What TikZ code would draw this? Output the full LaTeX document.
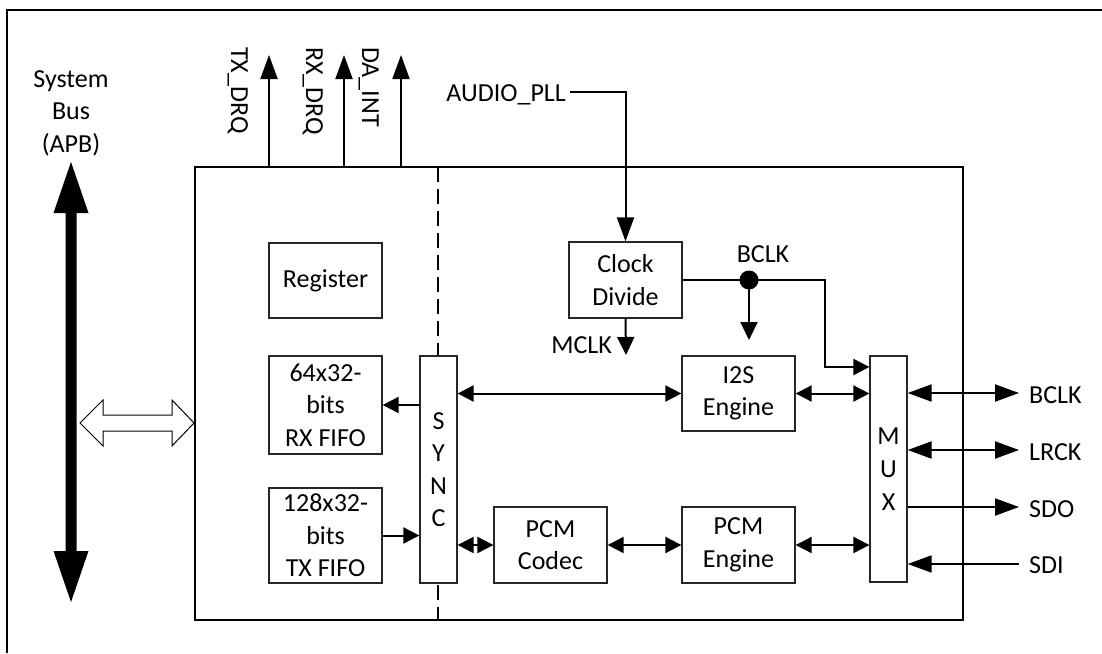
\documentclass[tikz,border=0pt]{standalone}
\usepackage{fontspec}
\setmainfont{Carlito}
\usetikzlibrary{arrows.meta}
\tikzset{
  every node/.style={font=\fontsize{26pt}{32.5pt}\selectfont, inner sep=0pt},
  blk/.style={draw=black!85, line width=1.3pt, fill=white, align=center, inner sep=0pt},
  conn/.style={line width=2pt},
  sa/.style={conn, -{Triangle[length=16pt,width=16pt]}},
  sab/.style={conn, {Triangle[length=16pt,width=16pt]}-{Triangle[length=16pt,width=16pt]}},
  ba/.style={conn, -{Triangle[length=24pt,width=17pt]}},
  bab/.style={conn, {Triangle[length=24pt,width=17pt]}-{Triangle[length=24pt,width=17pt]}},
}
\begin{document}
\begin{tikzpicture}[x=1pt,y=-1pt]
\useasboundingbox (0,0) rectangle (1102,653);
% outer frame (left and top)
\draw[line width=2pt] (7,653) -- (7,10) -- (1102,10);
% main box
\node[draw, line width=2pt, minimum width=768pt, minimum height=453pt] (main) at (579,393.5) {};
% dashed separator
\coordinate (dtop) at (438,167);
\coordinate (dbot) at (438,620);
\draw[line width=1.5pt, dash pattern=on 15pt off 7pt] (dtop) -- (dbot);
% system bus label
\node[align=center] (sysbus) at (71,113) {System\\Bus\\(APB)};
% thick bus arrow
\fill (71,162) -- (88.5,213) -- (76.5,213) -- (76.5,551) -- (88.5,551) -- (71,602) -- (53.5,551) -- (65.5,551) -- (65.5,213) -- (53.5,213) -- cycle;
% hollow double arrow
\draw[line width=1pt, fill=white] (80,423) -- (103,400) -- (103,415) -- (172,415) -- (172,400) -- (194,423) -- (172,446) -- (172,431) -- (103,431) -- (103,446) -- cycle;
% blocks
\node[blk, minimum width=113pt, minimum height=75pt] (reg) at (325.5,280.5) {Register};
\node[blk, minimum width=113pt, minimum height=98pt] (rx) at (325.5,405) {64x32-\\bits\\RX FIFO};
\node[blk, minimum width=113pt, minimum height=95pt] (tx) at (325.5,535.5) {128x32-\\bits\\TX FIFO};
\node[blk, minimum width=37pt, minimum height=227pt] (sync) at (438.5,469.5) {S\\Y\\N\\C};
\node[blk, minimum width=113pt, minimum height=76pt] (clk) at (625.5,280) {Clock\\Divide};
\node[blk, minimum width=113pt, minimum height=75pt] (i2s) at (738.5,393.5) {I2S\\Engine};
\node[blk, minimum width=113pt, minimum height=76pt] (codec) at (550.5,545) {PCM\\Codec};
\node[blk, minimum width=113pt, minimum height=76pt] (pcm) at (738.5,545) {PCM\\Engine};
\node[blk, minimum width=37pt, minimum height=226pt, font=\fontsize{26pt}{33pt}\selectfont] (mux) at (888.5,469) {M\\U\\X};
% top request signals
\coordinate (txe) at (269,55);
\coordinate (rxe) at (344,55);
\coordinate (dae) at (401,55);
\draw[ba] (main.north -| txe) -- (txe);
\draw[ba] (main.north -| rxe) -- (rxe);
\draw[ba] (main.north -| dae) -- (dae);
\node[rotate=-90, anchor=base west] (txl) at (231,47) {TX\_DRQ};
\node[rotate=-90, anchor=base west] (rxl) at (306,47) {RX\_DRQ};
\node[rotate=-90, anchor=base west] (dal) at (362,47) {DA\_INT};
% audio pll
\node[anchor=base east] (pll) at (566,101) {AUDIO\_PLL};
\coordinate (pllA) at (570,92);
\draw[ba] (pllA) -| (clk.north);
% mclk
\coordinate (mclke) at (626,355);
\draw[conn, -{Triangle[length=18pt,width=17pt]}] (clk.south) -- (mclke);
\node[anchor=base east] (mclk) at (612,353) {MCLK};
% bclk
\coordinate (dot) at (749,280);
\coordinate (bj) at (825,367);
\draw[sa] (clk.east) -| (bj) -- (mux.west |- bj);
\coordinate (dote) at (749,340);
\draw[conn, -{Triangle[length=18pt,width=17pt]}] (dot) -- (dote);
\fill (dot) circle[radius=9.5pt];
\node[anchor=base] (bclkl) at (763,262) {BCLK};
% internal data paths
\draw[sa] (sync.west |- rx.east) -- (rx.east);
\draw[sa] (tx.east) -- (sync.west |- tx.east);
\draw[sab] (sync.east |- i2s.west) -- (i2s.west);
\draw[sab] (i2s.east) -- (mux.west |- i2s.east);
\draw[sab] (sync.east |- codec.west) -- (codec.west);
\draw[sab] (codec.east) -- (pcm.west);
\draw[sab] (pcm.east) -- (mux.west |- pcm.east);
% external pins
\coordinate (eB) at (1019,393);
\coordinate (eL) at (1019,450);
\coordinate (eO) at (1019,507);
\coordinate (eI) at (1019,564);
\draw[bab] (mux.east |- eB) -- (eB);
\draw[bab] (mux.east |- eL) -- (eL);
\draw[ba] (mux.east |- eO) -- (eO);
\draw[ba] (eI) -- (mux.east |- eI);
\node[anchor=base west] (lB) at (1029,403) {BCLK};
\node[anchor=base west] (lL) at (1029,460) {LRCK};
\node[anchor=base west] (lO) at (1029,517) {SDO};
\node[anchor=base west] (lI) at (1029,573) {SDI};
\end{tikzpicture}
\end{document}
